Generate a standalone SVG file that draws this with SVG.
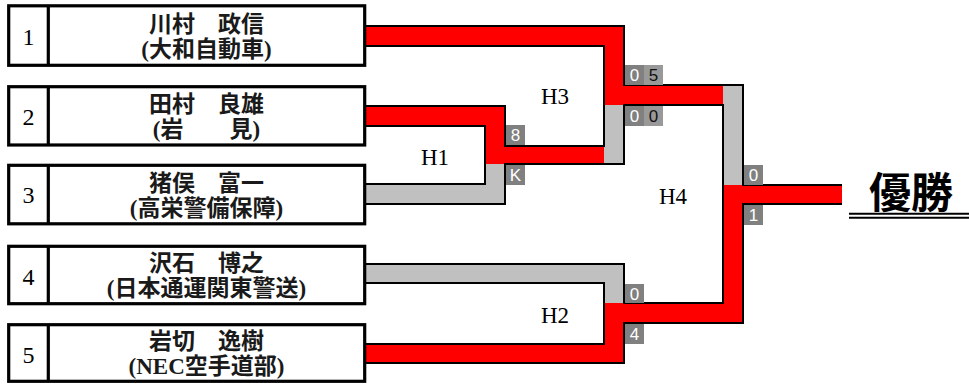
<svg xmlns="http://www.w3.org/2000/svg" width="969" height="385" viewBox="0 0 969 385">
<style>
.box{fill:#fff;stroke:#000;stroke-width:3.2}
.div{stroke:#000;stroke-width:3.2}
.num{font-family:"Liberation Serif","Noto Sans CJK JP",serif;font-size:24px;text-anchor:middle;fill:#000}
.nm{font-family:"Liberation Serif","Noto Sans CJK JP",serif;font-size:23px;font-weight:600;text-anchor:middle;fill:#1a1a1a}
.red{fill:#ff0000}
.gray{fill:#c0c0c0}
.ol{fill:none;stroke:#000;stroke-width:2;stroke-linejoin:miter}
.hl{font-family:"Liberation Serif",serif;font-size:23px;text-anchor:middle;fill:#000}
.sc1{fill:#808080}
.sc2{fill:#999999}
.st1{font-family:"Liberation Sans",Arial,sans-serif;font-size:17px;text-anchor:middle;fill:#fff}
.st2{font-family:"Liberation Sans",Arial,sans-serif;font-size:17px;text-anchor:middle;fill:#111}
.win{font-family:"Noto Sans CJK JP",sans-serif;font-size:42px;font-weight:bold;text-anchor:middle;fill:#000}
</style>

<g id="connectors">
  <!-- red fills -->
  <rect class="red" x="366" y="26" width="258" height="20"/>
  <rect class="red" x="604" y="26" width="20" height="79"/>
  <rect class="red" x="604" y="85" width="119" height="20"/>
  <rect class="red" x="366" y="106" width="139" height="20"/>
  <rect class="red" x="485" y="106" width="20" height="58"/>
  <rect class="red" x="485" y="146" width="119" height="18"/>
  <rect class="red" x="366" y="344" width="258" height="19"/>
  <rect class="red" x="604" y="303" width="20" height="60"/>
  <rect class="red" x="604" y="303" width="139" height="20"/>
  <rect class="red" x="723" y="185" width="20" height="138"/>
  <rect class="red" x="723" y="185" width="119" height="19"/>
  <!-- gray fills -->
  <rect class="gray" x="366" y="184" width="139" height="20"/>
  <rect class="gray" x="485" y="164" width="20" height="40"/>
  <rect class="gray" x="604" y="105" width="20" height="59"/>
  <rect class="gray" x="366" y="264" width="258" height="19"/>
  <rect class="gray" x="604" y="264" width="20" height="39"/>
  <rect class="gray" x="723" y="85" width="20" height="100"/>
  <!-- outlines -->
  <path class="ol" d="M366,26 H624 V85 H743 V185 H842"/>
  <path class="ol" d="M366,46 H604 V146 H505 V106 H366"/>
  <path class="ol" d="M366,126 H485 V184 H366"/>
  <path class="ol" d="M366,204 H505 V164 H624 V105 H723 V303 H624 V264 H366"/>
  <path class="ol" d="M366,283 H604 V344 H366"/>
  <path class="ol" d="M366,363 H624 V323 H743 V204 H842"/>
</g>

<g id="p1">
  <rect class="box" x="8.7" y="5.8" width="356" height="59.5"/>
  <line class="div" x1="48.3" y1="5.8" x2="48.3" y2="65.3"/>
  <text class="num" x="28.5" y="44.5">1</text>
  <text class="nm" x="206.5" y="31.7">川村　政信</text>
  <text class="nm" x="206.5" y="56.7">(大和自動車)</text>
</g>
<g id="p2">
  <rect class="box" x="8.7" y="86.7" width="356" height="58.3"/>
  <line class="div" x1="48.3" y1="86.7" x2="48.3" y2="145"/>
  <text class="num" x="28.5" y="124.8">2</text>
  <text class="nm" x="206.5" y="112">田村　良雄</text>
  <text class="nm" x="206.5" y="137">(岩　　見)</text>
</g>
<g id="p3">
  <rect class="box" x="8.7" y="165.3" width="356" height="58.5"/>
  <line class="div" x1="48.3" y1="165.3" x2="48.3" y2="223.8"/>
  <text class="num" x="28.5" y="203.4">3</text>
  <text class="nm" x="206.5" y="190.8">猪俣　富一</text>
  <text class="nm" x="206.5" y="215.8">(高栄警備保障)</text>
</g>
<g id="p4">
  <rect class="box" x="8.7" y="246.3" width="356" height="57.4"/>
  <line class="div" x1="48.3" y1="246.3" x2="48.3" y2="303.7"/>
  <text class="num" x="28.5" y="284.5">4</text>
  <text class="nm" x="206.5" y="271.2">沢石　博之</text>
  <text class="nm" x="206.5" y="296.2">(日本通運関東警送)</text>
</g>
<g id="p5">
  <rect class="box" x="8.7" y="324.7" width="356" height="56.6"/>
  <line class="div" x1="48.3" y1="324.7" x2="48.3" y2="381.3"/>
  <text class="num" x="28.5" y="362.5">5</text>
  <text class="nm" x="206.5" y="349.2">岩切　逸樹</text>
  <text class="nm" x="206.5" y="374.2">(NEC空手道部)</text>
</g>

<g id="matches">
  <text class="hl" x="435" y="164.5">H1</text>
  <text class="hl" x="555" y="323">H2</text>
  <text class="hl" x="555" y="104">H3</text>
  <text class="hl" x="673" y="204">H4</text>
</g>

<g id="scores">
  <rect class="sc1" x="506" y="125" width="19" height="20"/>
  <text class="st1" x="515.5" y="141">8</text>
  <rect class="sc1" x="506" y="165" width="19" height="20"/>
  <text class="st1" x="515.5" y="181">K</text>

  <rect class="sc1" x="625" y="65" width="19" height="20"/>
  <rect class="sc2" x="644" y="65" width="19" height="20"/>
  <text class="st1" x="634.5" y="81">0</text>
  <text class="st2" x="653.5" y="81">5</text>
  <rect class="sc1" x="625" y="106" width="19" height="20"/>
  <rect class="sc2" x="644" y="106" width="19" height="20"/>
  <text class="st1" x="634.5" y="122">0</text>
  <text class="st2" x="653.5" y="122">0</text>

  <rect class="sc1" x="625" y="284" width="19" height="19"/>
  <text class="st1" x="634.5" y="299.5">0</text>
  <rect class="sc1" x="625" y="324" width="19" height="20"/>
  <text class="st1" x="634.5" y="340">4</text>

  <rect class="sc1" x="744" y="165" width="19" height="20"/>
  <text class="st1" x="753.5" y="181">0</text>
  <rect class="sc1" x="744" y="205" width="19" height="20"/>
  <text class="st1" x="753.5" y="221">1</text>
</g>

<g id="winner">
  <text class="win" x="911" y="208">優勝</text>
  <line x1="849" y1="213.8" x2="969" y2="213.8" stroke="#000" stroke-width="2"/>
  <line x1="849" y1="217.8" x2="969" y2="217.8" stroke="#000" stroke-width="2"/>
</g>
</svg>
